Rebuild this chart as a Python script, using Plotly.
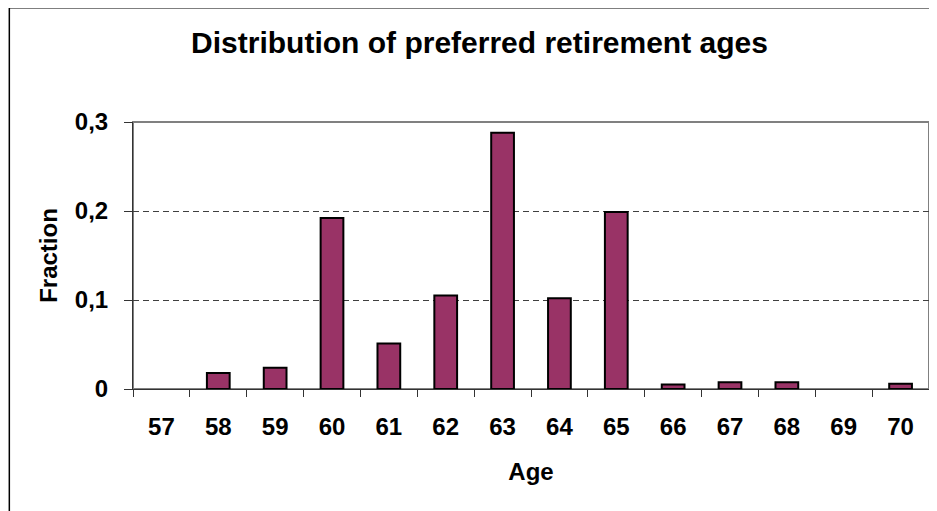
import plotly.graph_objects as go

ages = ["57", "58", "59", "60", "61", "62", "63", "64", "65", "66", "67", "68", "69", "70"]
fraction = [0.0, 0.018, 0.024, 0.192, 0.051, 0.105, 0.288, 0.102, 0.199, 0.005, 0.0075, 0.0075, 0.0, 0.006]
y_tickvals = [0, 0.1, 0.2, 0.3]
y_ticktext = ["0", "0,1", "0,2", "0,3"]

# page is offset by the 8px body margin of the html page
W, H = 937, 511
L, R, T, B = 124.5, 16, 114, 130
pw, ph = W - L - R, H - T - B

def px_x(p):
    return (p - L) / pw

def px_y(p):
    return (H - B - p) / ph

FONT = "Liberation Sans, Arial, sans-serif"

fig = go.Figure(
    go.Bar(
        x=ages,
        y=fraction,
        width=0.4,
        marker=dict(color="#993366",
                    line=dict(color="#000000", width=[0 if v == 0 else 2 for v in fraction])),
    )
)

fig.update_layout(
    width=W,
    height=H,
    margin=dict(l=L, r=R, t=T, b=B),
    paper_bgcolor="white",
    plot_bgcolor="white",
    showlegend=False,
    font=dict(family=FONT, color="black"),
    title=dict(
        text="Distribution of preferred retirement ages",
        x=471.5 / W,
        xanchor="center",
        y=1 - 34 / H,
        yanchor="middle",
        font=dict(family=FONT, size=30, weight="bold", color="black"),
    ),
    xaxis=dict(
        type="category",
        tickson="boundaries",
        ticks="outside",
        ticklen=7,
        tickcolor="#333333",
        showline=True,
        linecolor="#333333",
        linewidth=1,
        showgrid=False,
        tickfont=dict(family=FONT, size=24, weight="bold"),
        ticklabelstandoff=16,
        title=dict(text="Age", font=dict(family=FONT, size=24, weight="bold"), standoff=24),
    ),
    yaxis=dict(
        range=[0, 0.3],
        tickvals=y_tickvals,
        ticktext=y_ticktext,
        ticks="outside",
        ticklen=8,
        tickcolor="#333333",
        showline=True,
        linecolor="#333333",
        linewidth=1,
        showgrid=True,
        gridcolor="#404040",
        griddash="6px,4px",
        gridwidth=1,
        zeroline=False,
        tickfont=dict(family=FONT, size=24, weight="bold"),
        ticklabelstandoff=11,
        title=dict(text="Fraction", font=dict(family=FONT, size=24, weight="bold"), standoff=10),
    ),
    shapes=[
        dict(type="rect", xref="x domain", yref="y domain", x0=0, x1=1, y0=0, y1=1,
             line=dict(color="#808080", width=2), fillcolor="rgba(0,0,0,0)", layer="below"),
        dict(type="rect", xref="paper", yref="paper",
             x0=px_x(0.75), x1=px_x(W + 20), y0=px_y(-0.25), y1=px_y(H + 20),
             line=dict(color="#000000", width=1.5), fillcolor="rgba(0,0,0,0)", layer="below"),
    ],
)

fig.write_html("out.html")
